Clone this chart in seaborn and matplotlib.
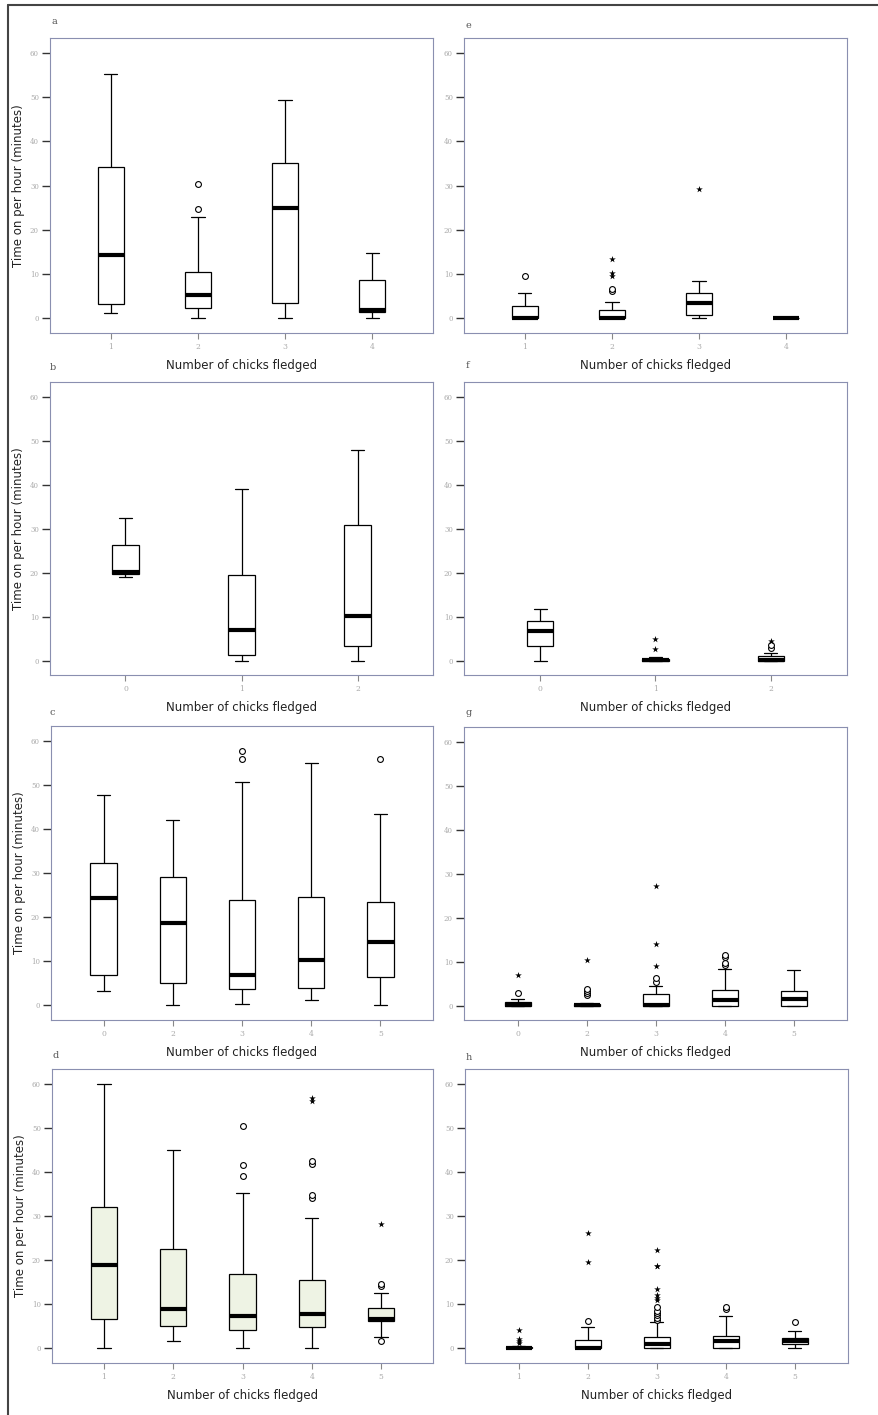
import numpy as np
import pandas as pd
import matplotlib
matplotlib.use("Agg")
import matplotlib.pyplot as plt
from matplotlib.lines import Line2D
import seaborn as sns

# five-number summaries: [low whisker, Q1, median, Q3, high whisker]
# outliers split as in SPSS: open circles (mild) and stars (extreme)

# a - left column, 1..4 chicks
A_CATS = ['1', '2', '3', '4']
A_STATS = [[1.3, 3.2, 14.3, 34.2, 55.3], [0, 2.3, 5.4, 10.6, 22.9],
           [0, 3.4, 24.9, 35.1, 49.4], [0, 1.5, 2.0, 8.6, 14.9]]
A_MILD = [[], [24.7, 30.3], [], []]
A_EXTREME = [[], [], [], []]

# b
B_CATS = ['0', '1', '2']
B_STATS = [[19.0, 19.6, 20.2, 26.3, 32.5], [0, 1.3, 7.0, 19.4, 39.1],
           [0, 3.4, 10.2, 30.9, 47.9]]
B_MILD = [[], [], []]
B_EXTREME = [[], [], []]

# c
C_CATS = ['0', '2', '3', '4', '5']
C_STATS = [[3.3, 6.9, 24.3, 32.4, 47.8], [0, 5.2, 18.8, 29.1, 42.0],
           [0.4, 3.7, 7.0, 24.0, 50.6], [1.3, 3.9, 10.4, 24.7, 55.0],
           [0.2, 6.4, 14.3, 23.5, 43.4]]
C_MILD = [[], [], [55.8, 57.7], [], [56.0]]
C_EXTREME = [[], [], [], [], []]

# d
D_CATS = ['1', '2', '3', '4', '5']
D_STATS = [[0, 6.7, 18.9, 32.1, 60.0], [1.6, 5.1, 9.0, 22.6, 45.1],
           [0, 4.2, 7.4, 17.0, 35.2], [0, 4.8, 7.9, 15.6, 29.7],
           [2.5, 6.3, 6.7, 9.1, 12.6]]
D_MILD = [[], [], [39.2, 41.7, 50.4], [34.2, 34.8, 41.9, 42.5], [1.7, 14.2, 14.6]]
D_EXTREME = [[], [], [], [56.2, 56.8], [28.2]]

# e - right column
E_CATS = ['1', '2', '3', '4']
E_STATS = [[0, 0, 0, 2.8, 5.7], [0, 0, 0, 2.0, 3.8],
           [0, 0.75, 3.4, 5.7, 8.5], [0, 0, 0, 0, 0]]
E_MILD = [[9.6], [6.3, 6.7], [], []]
E_EXTREME = [[], [9.7, 10.2, 13.4], [29.2], []]

# f
F_CATS = ['0', '1', '2']
F_STATS = [[0, 3.4, 6.7, 9.1, 11.7], [0, 0, 0.1, 0.4, 0.8],
           [0, 0, 0.2, 1.0, 1.7]]
F_MILD = [[], [], [2.9, 3.5]]
F_EXTREME = [[], [2.7, 4.9], [4.5]]

# g
G_CATS = ['0', '2', '3', '4', '5']
G_STATS = [[0, 0, 0.1, 0.7, 1.5], [0, 0, 0.1, 0.3, 0.5],
           [0, 0, 0.15, 2.6, 4.5], [0, 0, 1.3, 3.6, 8.4],
           [0, 0, 1.4, 3.4, 8.1]]
G_MILD = [[2.9], [2.4, 2.9, 3.3, 3.7], [5.4, 6.3], [9.2, 9.6, 11.1, 11.6], []]
G_EXTREME = [[6.9], [10.4], [9.0, 14.1, 27.2], [], []]

# h
H_CATS = ['1', '2', '3', '4', '5']
H_STATS = [[0, 0, 0, 0.3, 0.6], [0, 0, 0, 2.0, 4.8],
           [0, 0, 1.1, 2.6, 6.1], [0, 0, 1.7, 2.9, 7.3],
           [0, 1.1, 1.6, 2.4, 3.9]]
H_MILD = [[], [6.3], [6.5, 7.0, 7.5, 8.0, 8.6, 9.5], [8.9, 9.4], [5.9]]
H_EXTREME = [[1.2, 1.7, 2.1, 4.2], [19.7, 26.1],
             [11.0, 11.5, 12.2, 13.5, 18.6, 18.7, 22.3], [], []]

W, H = 879, 1415
sns.set_theme(style='white')
plt.rcParams['font.family'] = ['DejaVu Sans']

fig = plt.figure(figsize=(W / 100, H / 100), dpi=100)


def long_frame(cats, groups):
    rows = [(c, v) for c, g in zip(cats, groups) for v in g]
    return pd.DataFrame(rows, columns=['chicks', 'minutes'])


def panel(rect, letter, letter_xy, cats, stats, mild, extreme, width, xlim,
          fill='white', ylabel=True):
    l, t, r, b = rect
    ax = fig.add_axes([l / W, 1 - b / H, (r - l) / W, (b - t) / H])
    sns.boxplot(data=long_frame(cats, stats), x='chicks', y='minutes', order=cats,
                whis=np.inf, width=width, color=fill, saturation=1,
                linecolor='black', linewidth=0.9, fliersize=0,
                medianprops={'linewidth': 3.0, 'color': 'black'}, ax=ax)
    mdf = long_frame(cats, mild)
    if len(mdf):
        sns.stripplot(data=mdf, x='chicks', y='minutes', order=cats, jitter=False,
                      marker='o', size=4.2, color='white', edgecolor='black',
                      linewidth=0.8, ax=ax, zorder=4)
    edf = long_frame(cats, extreme)
    if len(edf):
        sns.stripplot(data=edf, x='chicks', y='minutes', order=cats, jitter=False,
                      marker='*', size=5, color='black', linewidth=0, ax=ax, zorder=4)

    ax.set_xlim(*xlim)
    ax.set_ylim(-3.3, 63.4)
    ax.set_yticks(range(0, 61, 10))
    ax.set_xlabel('Number of chicks fledged', fontsize=8.5, color='#222222', labelpad=6)
    if ylabel:
        ax.set_ylabel('Time on per hour (minutes)', fontsize=8.5, color='#222222')
        ax.yaxis.set_label_coords(-0.065, 0.5)
    else:
        ax.set_ylabel('')
    for s in ax.spines.values():
        s.set_visible(True)
        s.set_color('#8a8fb0')
        s.set_linewidth(0.8)
    ax.tick_params(axis='x', direction='out', length=4, width=0.8, color='#888888',
                   labelsize=5.5, labelcolor='#aaaaaa', pad=3, bottom=True)
    ax.tick_params(axis='y', direction='out', length=6, width=1.0, color='#333333',
                   labelsize=5, labelcolor='#aaaaaa', pad=2, left=True)
    for lbl in ax.get_xticklabels() + ax.get_yticklabels():
        lbl.set_fontfamily('DejaVu Serif')
    fig.text(letter_xy[0] / W, 1 - letter_xy[1] / H, letter, fontsize=7,
             family='DejaVu Serif', color='#555555', va='center')
    return ax


panel((50, 38, 433, 333), 'a', (52, 22), A_CATS, A_STATS, A_MILD, A_EXTREME,
      0.3, (-0.7, 3.7))
panel((50, 382, 433, 675), 'b', (50, 368), B_CATS, B_STATS, B_MILD, B_EXTREME,
      0.23, (-0.65, 2.65))
panel((51, 726, 433, 1020), 'c', (50, 712), C_CATS, C_STATS, C_MILD, C_EXTREME,
      0.38, (-0.76, 4.76))
panel((52, 1069, 433, 1363), 'd', (53, 1055), D_CATS, D_STATS, D_MILD, D_EXTREME,
      0.38, (-0.75, 4.75), fill='#eef3e4')

panel((464, 38, 847, 333), 'e', (466, 25), E_CATS, E_STATS, E_MILD, E_EXTREME,
      0.3, (-0.7, 3.7), ylabel=False)
panel((464, 382, 847, 675), 'f', (466, 366), F_CATS, F_STATS, F_MILD, F_EXTREME,
      0.23, (-0.66, 2.66), ylabel=False)
panel((464, 727, 847, 1020), 'g', (466, 712), G_CATS, G_STATS, G_MILD, G_EXTREME,
      0.38, (-0.78, 4.77), ylabel=False)
panel((465, 1069, 848, 1363), 'h', (466, 1058), H_CATS, H_STATS, H_MILD, H_EXTREME,
      0.38, (-0.78, 4.77), ylabel=False)

# outer frame (top and left edges only, as scanned)
fig.add_artist(Line2D([8 / W, 1], [1 - 5 / H, 1 - 5 / H], transform=fig.transFigure,
                      color='#444444', lw=1.5))
fig.add_artist(Line2D([8 / W, 8 / W], [0, 1 - 5 / H], transform=fig.transFigure,
                      color='#444444', lw=1.5))

fig.savefig('out.png', dpi=100)
